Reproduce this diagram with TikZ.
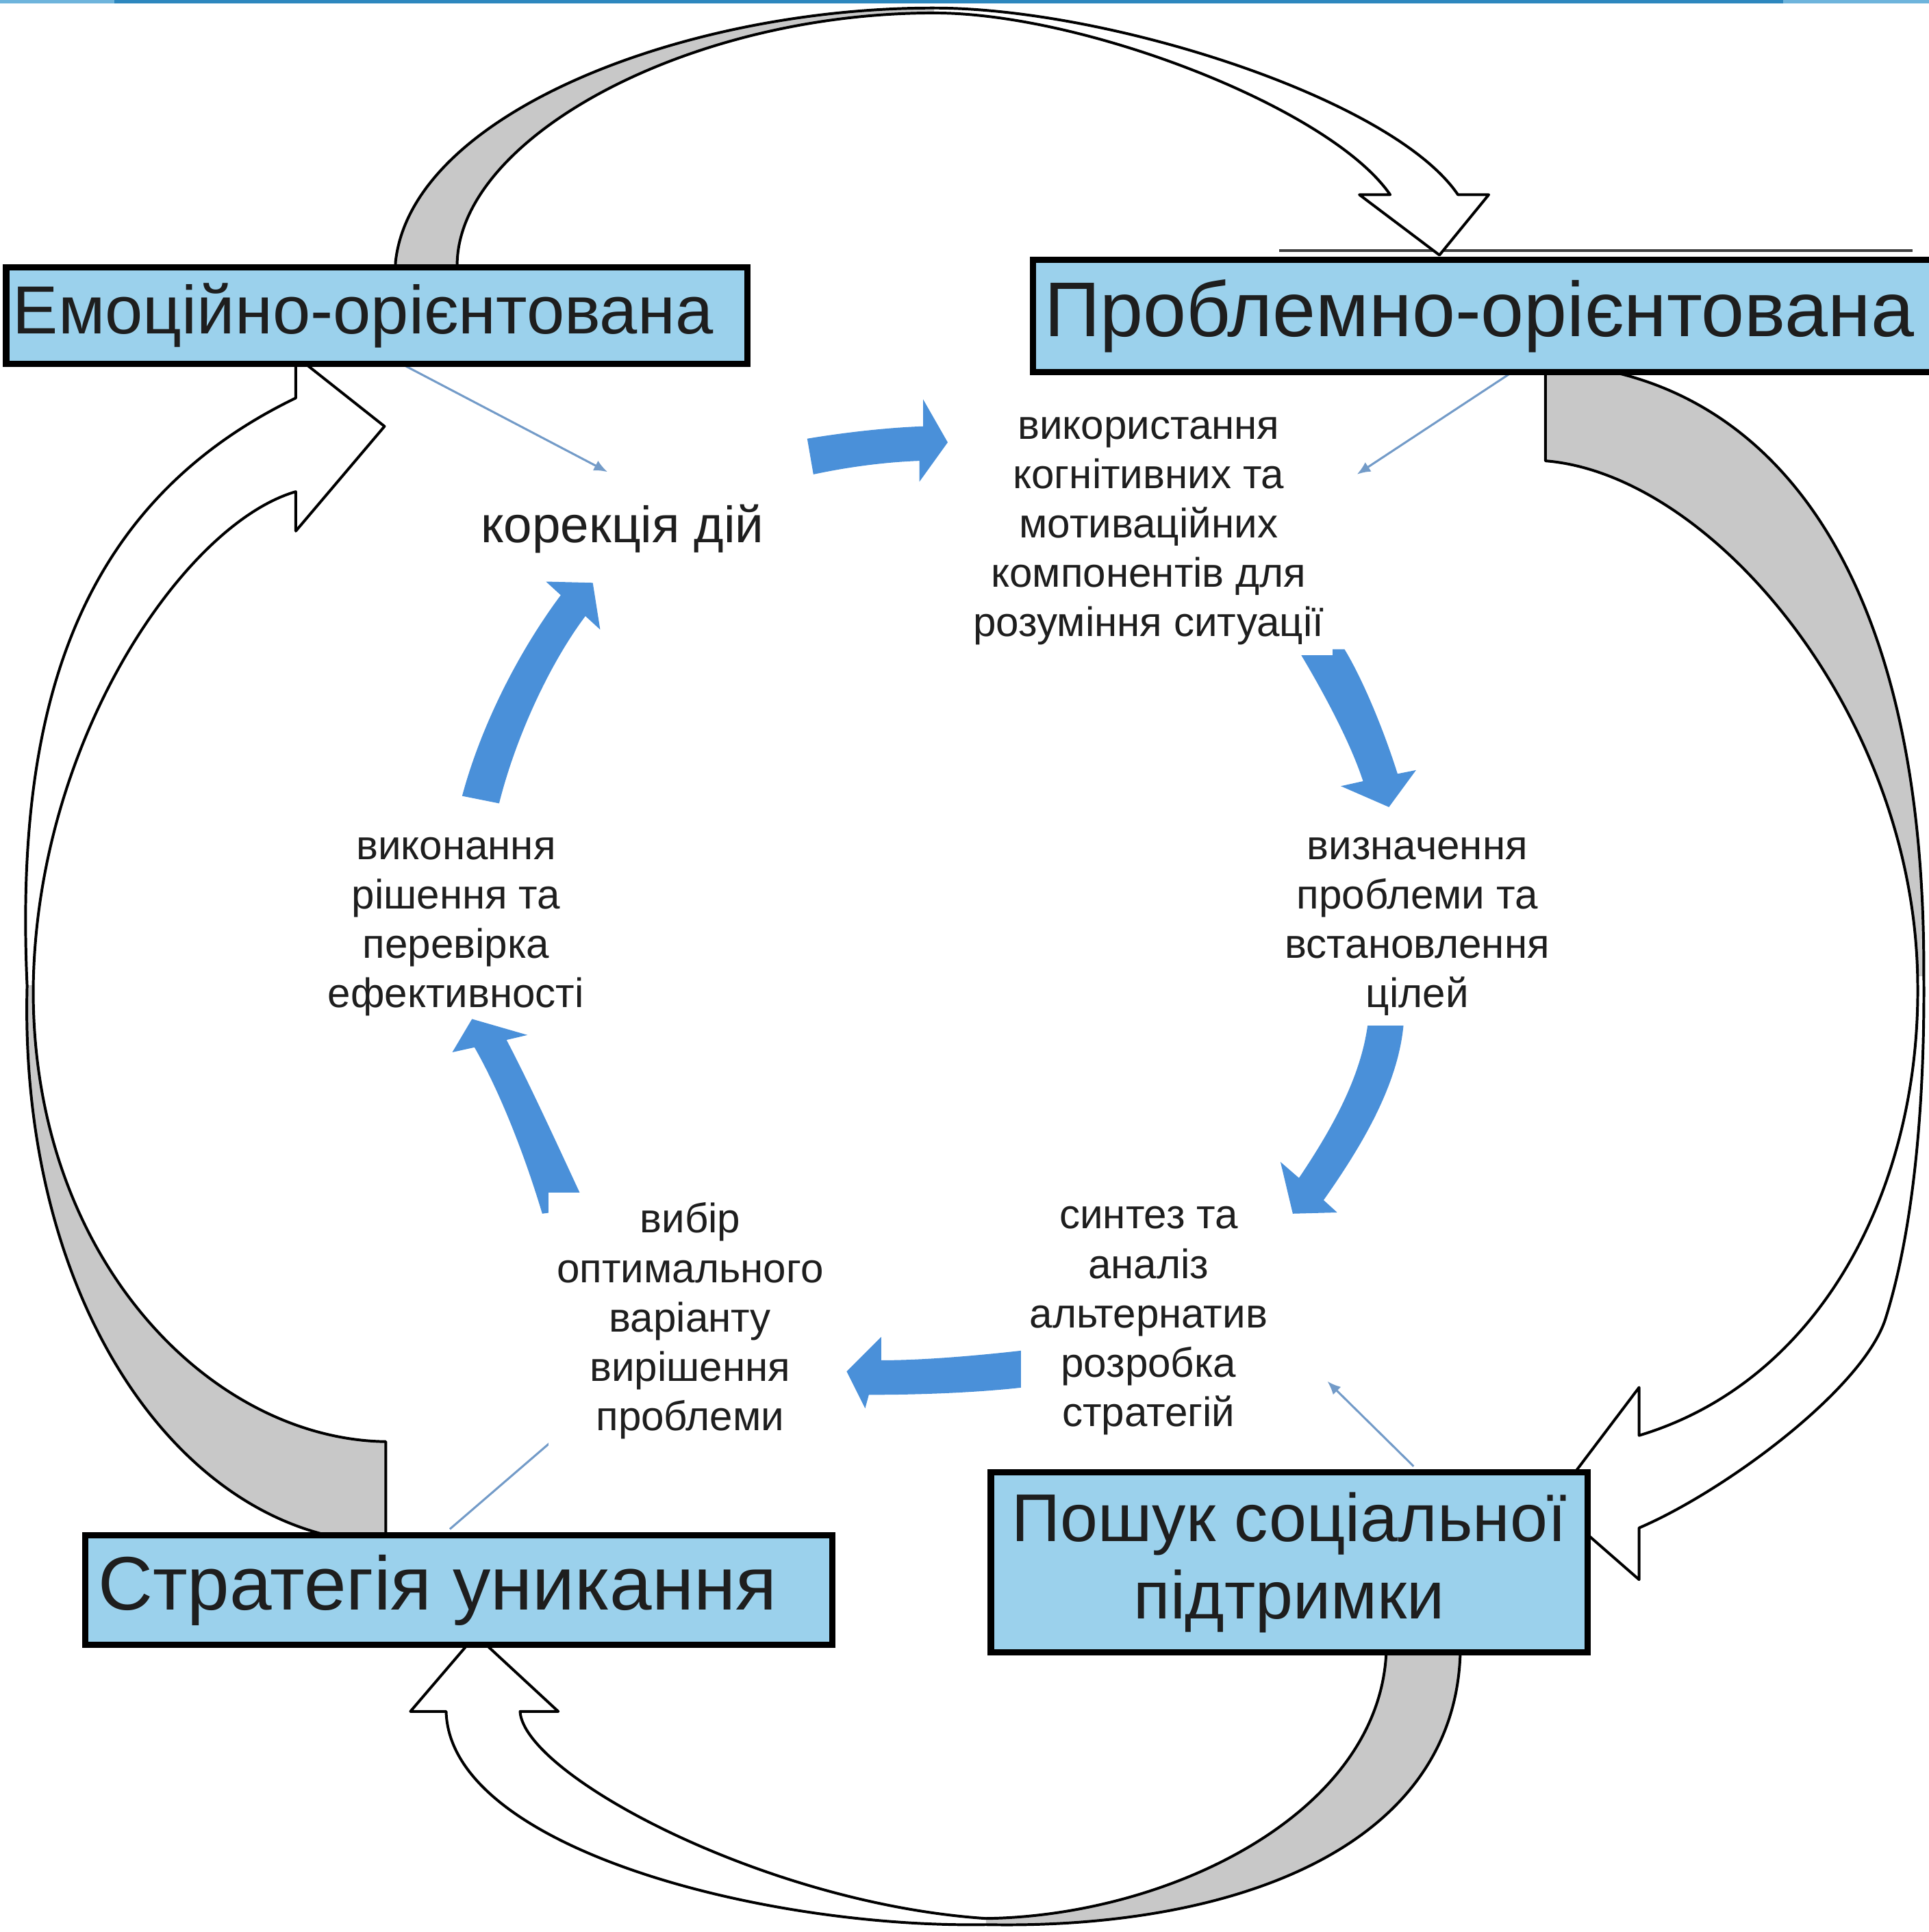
\documentclass[tikz,border=0pt]{standalone}
\usepackage{fontspec}
\setmainfont{Liberation Sans}
\usetikzlibrary{arrows.meta}
\definecolor{boxblue}{RGB}{155,209,236}
\definecolor{arrowblue}{RGB}{74,144,217}
\definecolor{connblue}{RGB}{115,155,200}
\definecolor{ribgrey}{RGB}{200,200,200}
\definecolor{txt}{RGB}{30,30,30}
\definecolor{topdark}{RGB}{45,135,190}
\definecolor{toplight}{RGB}{110,180,220}
\pgfdeclarelayer{bg}
\pgfsetlayers{bg,main}
\newcommand\ribAone{(320,230) -- (321,212) .. controls (335,90) and (560,6) .. (758,6.5) .. controls (900,6.5) and (1130,80) .. (1183,158) -- (1208,158) -- (1168,207) -- (1103,158) -- (1128,158) .. controls (1080,88) and (880,10.5) .. (758,10.5) .. controls (560,10.5) and (375,110) .. (371,212) -- (371,230) -- cycle}
\newcommand\ribAtwo{(1254,290) -- (1254,374) .. controls (1390,385) and (1553,580) .. (1556,795) .. controls (1559,960) and (1480,1120) .. (1330,1165) -- (1330,1126) -- (1259,1220) -- (1330,1282) -- (1330,1240) .. controls (1400,1210) and (1512,1127) .. (1530,1070) .. controls (1552,1000) and (1562,900) .. (1561,790) .. controls (1562,440) and (1420,300) .. (1254,295) -- cycle}
\newcommand\ribAthree{(1185,1330) -- (1185,1335) .. controls (1185,1500) and (1000,1566) .. (800,1562) .. controls (620,1565) and (365,1500) .. (362,1389) -- (333,1389) -- (386,1327) -- (453,1389) -- (422,1389) .. controls (425,1440) and (620,1545) .. (800,1557) .. controls (950,1555) and (1124,1470) .. (1125,1335) -- (1125,1330) -- cycle}
\newcommand\ribAfour{(313,1255) -- (313,1170) .. controls (170,1168) and (25,1020) .. (27,800) .. controls (30,600) and (150,425) .. (240,399) -- (240,431) -- (312,346) -- (240,289) -- (240,323) .. controls (60,410) and (12,580) .. (22,800) .. controls (15,1060) and (150,1250) .. (313,1252) -- cycle}
\begin{document}
\begin{tikzpicture}[x=0.01cm, y=-0.01cm,
  bigbox/.style={draw=black, line width=0.05cm, fill=boxblue, inner ysep=0pt, anchor=north west, text=txt},
  lbl/.style={fill=white, align=center, inner xsep=0.07cm, inner ysep=0.08cm, font=\fontsize{9.5}{11.4}\selectfont, text=txt},
  ribbon/.style={draw=black, line width=0.022cm, line join=round},
  bluearrow/.style={fill=arrowblue},
  thinconn/.style={draw=connblue, line width=0.017cm},
  tinyhead/.style={-{Latex[length=0.11cm,width=0.09cm]}}]
\useasboundingbox (0,0) rectangle (1565,1568);

% category boxes
\node[bigbox, inner xsep=0.055cm, minimum height=0.78cm, font=\fontsize{15.7}{18}\selectfont] (emo) at (2.5,214.5) {\makebox[5.90cm][l]{Емоційно-орієнтована}};
\node[bigbox, inner xsep=0.095cm, minimum height=0.91cm, font=\fontsize{17.9}{21}\selectfont] (prob) at (835.5,208.5) {\makebox[7.20cm][l]{Проблемно-орієнтована}};
\node[bigbox, inner xsep=0.105cm, minimum height=0.89cm, font=\fontsize{17.5}{21}\selectfont] (avoid) at (66.5,1243.5) {\makebox[5.85cm][l]{Стратегія уникання}};
\node[bigbox, inner xsep=0pt, minimum width=4.84cm, minimum height=1.46cm, align=center, font=\fontsize{15.6}{17.9}\selectfont] (soc) at (801.5,1192.5) {Пошук соціальної\\підтримки};

% step labels
\node[lbl, fill=none, font=\fontsize{11.8}{14}\selectfont] (l1) at (505,429) {корекція дій};
\node[lbl] (l2) at (932,431) {використання\\когнітивних та\\мотиваційних\\компонентів для\\розуміння ситуації};
\node[lbl] (l3) at (1150,752) {визначення\\проблеми та\\встановлення\\цілей};
\node[lbl] (l4) at (932,1072) {синтез та\\аналіз\\альтернатив\\розробка\\стратегій};
\node[lbl] (l5) at (560,1072) {вибір\\оптимального\\варіанту\\вирішення\\проблеми};
\node[lbl, fill=none] (l6) at (370,752) {виконання\\рішення та\\перевірка\\ефективності};

% connector end points
\coordinate (c1a) at (329,297);
\coordinate (c1b) at (493,383);
\coordinate (c2a) at (1227,302);
\coordinate (c2b) at (1101,385);
\coordinate (c3a) at (1147,1190);
\coordinate (c3b) at (1077,1121);
\coordinate (c4a) at (365,1241);
\coordinate (c4b) at (452,1166);

\begin{pgfonlayer}{bg}
  % top stripe
  \fill[toplight] (0,0) rectangle (1565,3);
  \fill[topdark] (93,0) rectangle (1447,3);
  % line above the problem box
  \draw[black!75, line width=0.02cm] (1038,203.5) -- (1552,203.5);

  % big outlined ribbons
  \fill[white] \ribAone;
  \begin{scope}\clip (0,-20) rectangle (758,300); \fill[ribgrey] \ribAone; \end{scope}
  \draw[ribbon] \ribAone;

  \fill[white] \ribAtwo;
  \begin{scope}\clip (1200,250) rectangle (1600,792); \fill[ribgrey] \ribAtwo; \end{scope}
  \draw[ribbon] \ribAtwo;

  \fill[white] \ribAthree;
  \begin{scope}\clip (800,1300) rectangle (1600,1600); \fill[ribgrey] \ribAthree; \end{scope}
  \draw[ribbon] \ribAthree;

  \fill[white] \ribAfour;
  \begin{scope}\clip (-10,800) rectangle (400,1300); \fill[ribgrey] \ribAfour; \end{scope}
  \draw[ribbon] \ribAfour;

  % thin connectors
  \draw[thinconn, tinyhead] (c1a) -- (c1b);
  \draw[thinconn, tinyhead] (c2a) -- (c2b);
  \draw[thinconn, tinyhead] (c3a) -- (c3b);
  \draw[thinconn] (c4a) -- (c4b);

  % blue cycle arrows
  \fill[bluearrow] (655,356) .. controls (685,351) and (720,347) .. (749,346) -- (749,324) -- (769,359) -- (746,391) -- (746,374) .. controls (718,375) and (688,379) .. (660,385) -- cycle;
  \fill[bluearrow] (1053,527) .. controls (1070,555) and (1095,600) .. (1106,634) -- (1088,638) -- (1127,655) -- (1149,625) -- (1134,628) .. controls (1122,590) and (1105,550) .. (1091,527) -- cycle;
  \fill[bluearrow] (1110,830) .. controls (1105,870) and (1085,910) .. (1054,956) -- (1039,943) -- (1049,985) -- (1085,984) -- (1074,974) .. controls (1105,930) and (1135,880) .. (1139,830) -- cycle;
  \fill[bluearrow] (845,1094) -- (830,1096) .. controls (795,1100) and (750,1104) .. (715,1104) -- (715,1085) -- (687,1113) -- (702,1143) -- (705,1132) .. controls (750,1132) and (795,1130) .. (830,1126) -- (845,1125) -- cycle;
  \fill[bluearrow] (440,985) .. controls (425,935) and (405,885) .. (385,850) -- (367,854) -- (383,827) -- (428,840) -- (411,844) .. controls (430,880) and (455,935) .. (476,980) -- cycle;
  \fill[bluearrow] (375,646) .. controls (390,590) and (420,530) .. (455,483) -- (443,472) -- (481,473) -- (487,511) -- (475,500) .. controls (445,540) and (418,600) .. (405,652) -- cycle;
\end{pgfonlayer}
\end{tikzpicture}
\end{document}
